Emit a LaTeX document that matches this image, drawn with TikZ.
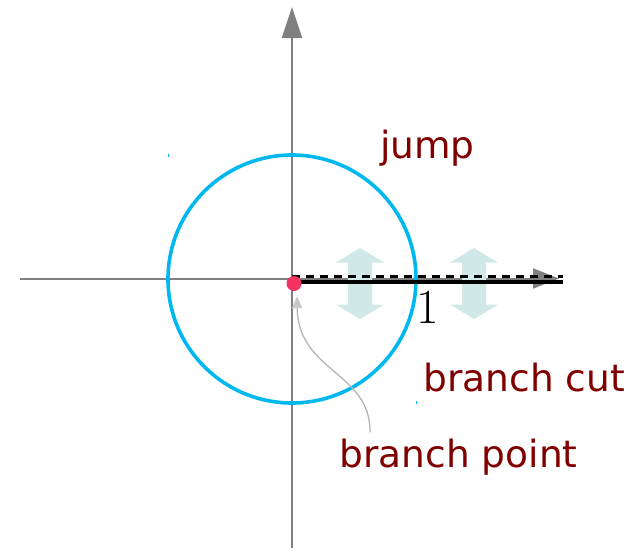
\documentclass[tikz,border=0pt]{standalone}
\usepackage{fontspec}
\newfontfamily\labelfont{DejaVu Sans}
\usetikzlibrary{arrows.meta}
\definecolor{axisgray}{HTML}{808080}
\definecolor{circblue}{HTML}{00B8F0}
\definecolor{jumpteal}{HTML}{D0E8E6}
\definecolor{labelred}{HTML}{800000}
\definecolor{ptred}{HTML}{F23462}
\definecolor{leadgray}{HTML}{B4B4B4}
\definecolor{leadtip}{HTML}{C8C8C8}
\begin{document}
\begin{tikzpicture}[x=1pt,y=-1pt,
  axis/.style={draw=axisgray, line width=2pt},
  circ/.style={draw=circblue, line width=3.6pt},
  lbl/.style={font=\labelfont\fontsize{37.5}{44}\selectfont, text=labelred, inner sep=0pt, anchor=base west},
  jumparrow/.pic={\fill[jumpteal] (0,-35.5) -- (24,-21) -- (12,-21) -- (12,21) -- (24,21) -- (0,35.5)
      -- (-24,21) -- (-12,21) -- (-12,-21) -- (-24,-21) -- cycle;},
  cutline/.style={line width=4.6pt, draw=black},
  cutdash/.style={line width=3.4pt, draw=black, dash pattern=on 8pt off 6pt},
  lead/.style={draw=leadgray, line width=1.3pt, -{Triangle[length=12pt,width=10pt,color=leadtip]}}
]
\useasboundingbox (0,0) rectangle (632,550);
% axes
\coordinate (xl) at (20,278.5);
\coordinate (xr) at (559,278.5);
\coordinate (yb) at (292,548);
\coordinate (yt) at (292,7);
\coordinate (O) at (292,279);
\draw[axis, -{Triangle[length=26pt,width=20pt,color=axisgray]}] (xl) -- (xr);
\draw[axis, -{Triangle[length=31pt,width=20pt,color=axisgray]}] (yb) -- (yt);
% jump arrows
\pic at (360,283.5) {jumparrow};
\pic at (474,283.5) {jumparrow};
% unit circle
\draw[circ] (O) circle[radius=124];
% tiny marks
\fill[circblue] (168,153.5) rectangle (169.2,157);
\fill[circblue] (416,400.5) rectangle (417.2,404);
% branch cut
\coordinate (cs) at (292,282);
\coordinate (ce) at (563,282);
\coordinate (ds) at (292,276.3);
\coordinate (de) at (563,276.3);
\draw[cutline] (cs) -- (ce);
\draw[cutdash] (ds) -- (de);
% branch point
\node[circle, fill=ptred, minimum size=15pt, inner sep=0pt] (bp) at (294,283.5) {};
% labels
\node[lbl] (jump) at (380,158) {jump};
\node[lbl] (bcut) at (423.5,391) {branch cut};
\node[lbl] (bpt) at (339.5,467) {branch point};
\node[font=\fontsize{49}{54}\selectfont, inner sep=0pt, anchor=base] (one) at (428,323) {1};
% leader
\draw[lead] ([xshift=30.5pt,yshift=6pt]bpt.north west) .. controls (371,372) and (298,372) .. ([xshift=3pt,yshift=-5pt]bp.south);
\end{tikzpicture}
\end{document}
